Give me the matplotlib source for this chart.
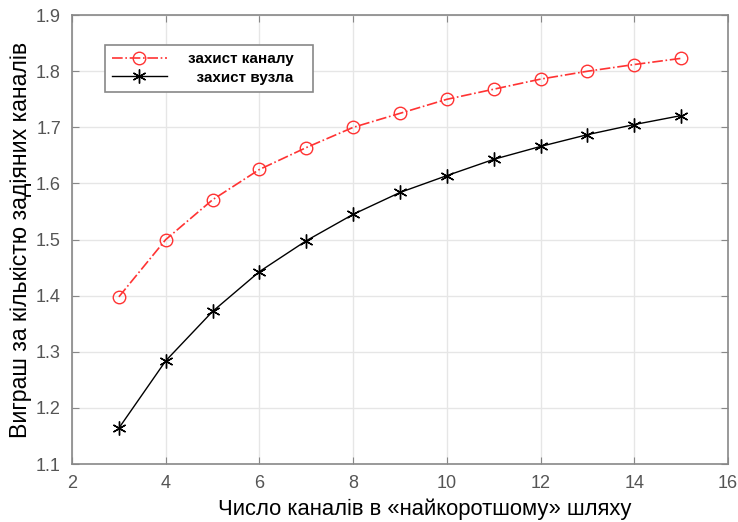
import numpy as np
import matplotlib.pyplot as plt

plt.rcParams['font.family'] = ['Liberation Sans', 'DejaVu Sans']

channels = [3, 4, 5, 6, 7, 8, 9, 10, 11, 12, 13, 14, 15]
link_protect = [1.398, 1.500, 1.571, 1.625, 1.664, 1.700, 1.725, 1.750,
                1.768, 1.786, 1.800, 1.812, 1.823]
node_protect = [1.164, 1.284, 1.372, 1.443, 1.498, 1.545, 1.584, 1.614,
                1.643, 1.666, 1.687, 1.705, 1.721]

fig = plt.figure(figsize=(7.38, 5.22), dpi=100)
ax = fig.add_axes([0.0976, 0.111, 0.8888, 0.860])

ax.plot(channels, link_protect, color='#ff3333', linestyle='-.', linewidth=1.2,
        marker='o', markersize=9, markerfacecolor='none', markeredgewidth=1.0,
        label='захист каналу   ')
ax.plot(channels, node_protect, color='black', linestyle='-', linewidth=1.0,
        marker=(6, 2, 0), markersize=10, markeredgewidth=1.0,
        label='  захист вузла   ')

ax.set_xlim(2, 16)
ax.set_ylim(1.1, 1.9)
ax.set_xticks(np.arange(2, 17, 2))
ax.set_yticks(np.arange(1.1, 1.91, 0.1))
ax.set_yticklabels([f'{v:.1f}' for v in np.arange(1.1, 1.91, 0.1)])

ax.grid(True, color='#e6e6e6', linewidth=1.0)
ax.set_axisbelow(True)
for s in ax.spines.values():
    s.set_color('#888888')
    s.set_linewidth(1.2)
ax.tick_params(direction='in', length=5, color='#888888', labelcolor='#555555',
               labelsize=13, top=True, right=True, labeltop=False, labelright=False)
ax.tick_params(axis='x', pad=8)
ax.tick_params(axis='y', pad=8)

ax.set_xlabel('Число каналів в «найкоротшому» шляху', fontsize=15.8)
ax.xaxis.set_label_coords(0.537, -0.077)
ax.set_ylabel('Виграш за кількістю задіяних каналів', fontsize=16.7, labelpad=3)

leg = ax.legend(loc='upper left', bbox_to_anchor=(0.05, 0.933), borderaxespad=0,
                fancybox=False, edgecolor='#888888', framealpha=1,
                prop={'weight': 'bold', 'size': 11}, handlelength=3.6,
                handletextpad=1.4, borderpad=0.45, labelspacing=0.3)
leg.get_frame().set_linewidth(1.2)

fig.savefig('out.png', dpi=100)
